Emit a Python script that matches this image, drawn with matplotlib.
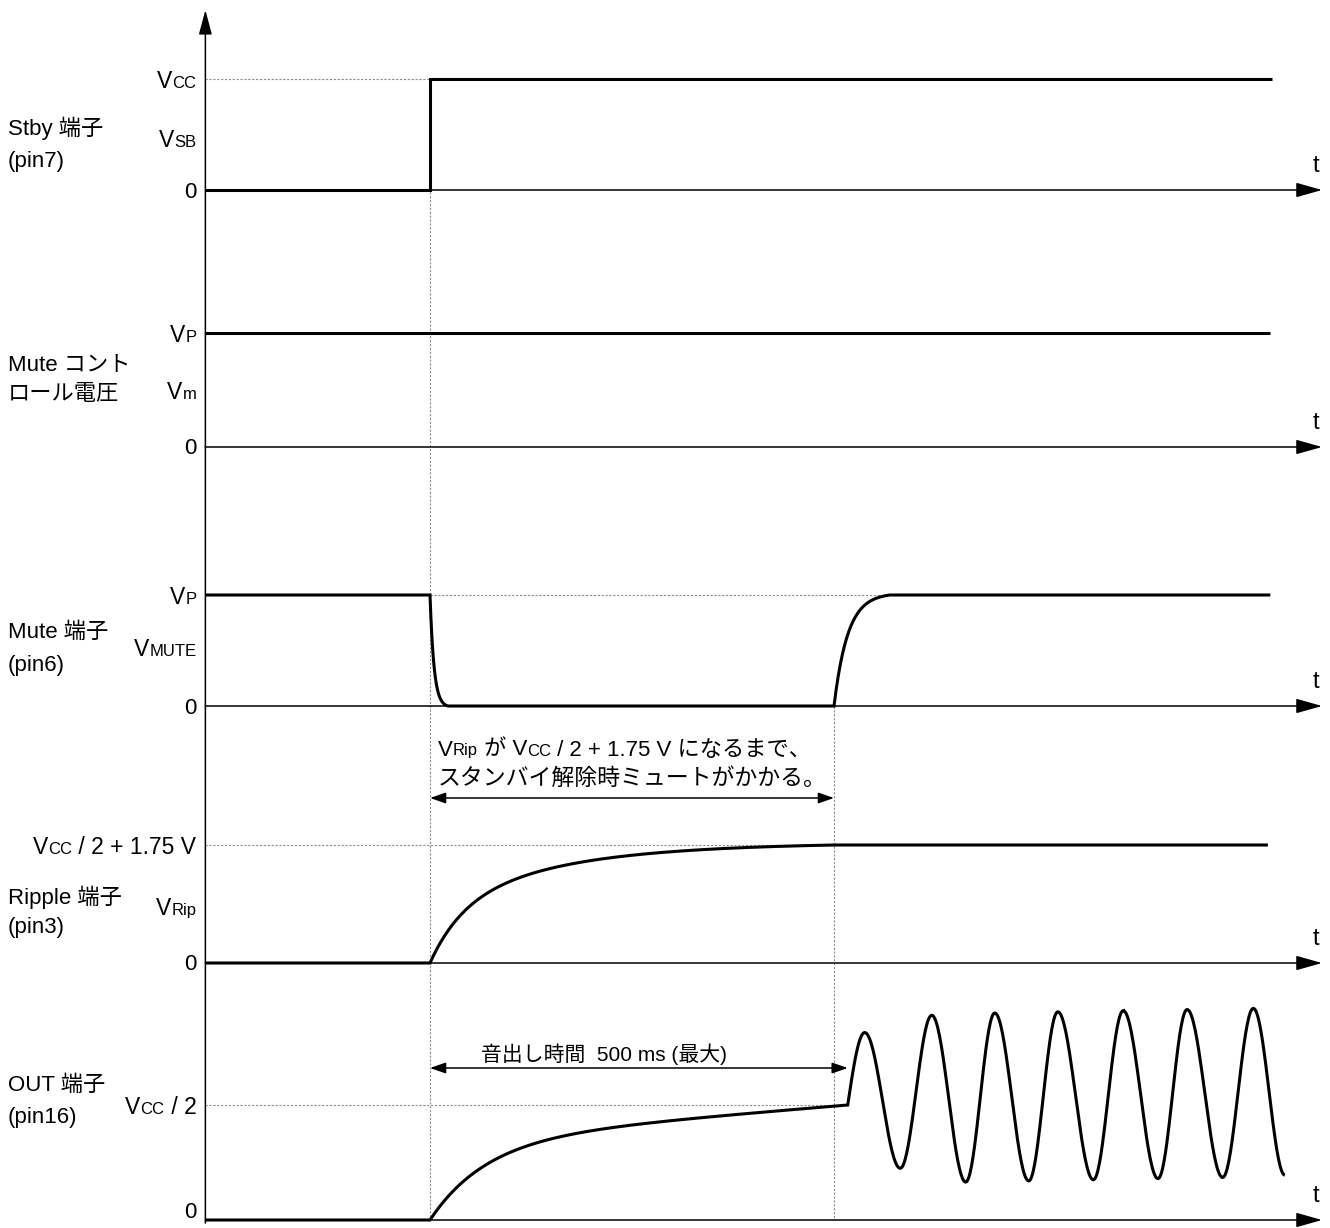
import numpy as np
import matplotlib.pyplot as plt
from matplotlib.offsetbox import TextArea, HPacker, AnnotationBbox

plt.rcParams['font.family'] = ['Liberation Sans', 'Noto Sans CJK JP']

# --- timing (ms) ---
T_STBY = 0          # standby released
T_UNMUTE = 500      # mute released (500 ms max)
T_OUT = 517         # output starts to swing
T_MUTE_SETTLE = 569
T_AXIS = -278
T_ARROW = 1104
t_trace_end = [1042, 1040, 1040, 1037]

# time constants (ms)
TAU_MUTE_FALL = 5
T_MUTE_FALL = 22
TAU_MUTE_RISE = 17
TAU_RIP_FAST, TAU_RIP_SLOW, RIP_FAST_SHARE = 40, 150, 0.45
TAU_OUT = 70

# output sine: extrema (ms, level in Vcc/2 units)
sine_t = [538, 582, 621, 663, 699, 741, 777, 821, 858, 901, 937, 981, 1019, 1058]
sine_v = [1.63, 0.45, 1.78, 0.33, 1.80, 0.34, 1.81, 0.35, 1.82, 0.36, 1.83, 0.37, 1.84, 0.39]

# threshold levels (fraction of top level)
mid_levels = [0.45, 0.48, 0.51, 0.46, None]

panel_names = [("Stby 端子", "(pin7)"), ("Mute コント", "ロール電圧"),
               ("Mute 端子", "(pin6)"), ("Ripple 端子", "(pin3)"),
               ("OUT 端子", "(pin16)")]
top_labels = [[("V", 0), ("CC", 1)], [("V", 0), ("P", 1)], [("V", 0), ("P", 1)],
              [("V", 0), ("CC", 1), (" / 2 + 1.75 V", 0)],
              [("V", 0), ("CC", 1), (" / 2", 0)]]
mid_labels = [[("V", 0), ("SB", 1)], [("V", 0), ("m", 1)], [("V", 0), ("MUTE", 1)],
              [("V", 0), ("Rip", 1)], None]

# --- layout (pixel rows) ---
PX_PER_MS = 0.808
X0_PX = 430
base_y = [190, 447, 706, 963, 1220]
top_y = [79, 333, 595, 845, 1105]
name_y = [(128, 162), (365, 395), (632, 665), (897, 928), (1085, 1117)]

W, H = 1330, 1228
fig = plt.figure(figsize=(W / 100, H / 100), dpi=100)
ax = fig.add_axes([0, 0, 1, 1])
ax.set_xlim(-X0_PX / PX_PER_MS, (W - X0_PX) / PX_PER_MS)
ax.set_ylim(H, 0)
ax.axis('off')

SIG = dict(color='black', lw=2.2, zorder=3, solid_capstyle='butt', solid_joinstyle='miter')
DOT = dict(color='#8c8c8c', lw=0.8, ls=(0, (2, 1.5)), zorder=1)


def yv(i, level):
    return base_y[i] - np.asarray(level) * (base_y[i] - top_y[i])


def rich(pieces, size=16.5, sub_size=12):
    kids = [TextArea(s, textprops=dict(fontsize=sub_size if sub else size))
            for s, sub in pieces]
    return HPacker(children=kids, align='baseline', pad=0, sep=0)


def place(box, x, y, align, dx=0):
    ab = AnnotationBbox(box, (x, y), xybox=(dx, 0), boxcoords='offset points',
                        box_alignment=align, frameon=False, pad=0)
    ax.add_artist(ab)


# axes
ax.annotate('', xy=(T_AXIS, 10), xytext=(T_AXIS, 1223),
            arrowprops=dict(arrowstyle='-|>,head_length=1.5,head_width=0.4',
                            color='black', lw=1.1, shrinkA=0, shrinkB=0))
for i in range(5):
    ax.annotate('', xy=(T_ARROW, base_y[i]), xytext=(T_AXIS, base_y[i]),
                arrowprops=dict(arrowstyle='-|>,head_length=1.6,head_width=0.45',
                                color='black', lw=1.1, shrinkA=0, shrinkB=0))
    ax.text(T_ARROW - 7, base_y[i] - 24, 't', fontsize=17, ha='center', va='center')

    # labels on the left
    for line, y in zip(panel_names[i], name_y[i]):
        ax.text(0.006, y, line, fontsize=16, va='center',
                transform=ax.get_yaxis_transform())
    place(rich(top_labels[i]), T_AXIS, top_y[i] + 3, (1, 0.5), dx=-6.5)
    if mid_labels[i] is not None:
        place(rich(mid_labels[i]), T_AXIS, yv(i, mid_levels[i]), (1, 0.5), dx=-6.5)
    place(rich([("0", 0)], size=16), T_AXIS, min(base_y[i] + 2, 1212), (1, 0.5), dx=-6.5)

# guide lines
ax.plot([T_STBY, T_STBY], [top_y[0], base_y[4]], **DOT)
ax.plot([T_UNMUTE, T_UNMUTE], [base_y[2], base_y[4]], **DOT)
ax.plot([T_AXIS, T_STBY], [top_y[0]] * 2, **DOT)
ax.plot([T_STBY, T_MUTE_SETTLE], [top_y[2]] * 2, **DOT)
ax.plot([T_AXIS, T_UNMUTE], [top_y[3]] * 2, **DOT)
ax.plot([T_AXIS, T_OUT], [top_y[4]] * 2, **DOT)

# Stby (pin7)
ax.plot([T_AXIS, T_STBY, T_STBY, t_trace_end[0]], yv(0, [0, 0, 1, 1]), **SIG)

# Mute control voltage
ax.plot([T_AXIS, t_trace_end[1]], yv(1, [1, 1]), **SIG)

# Mute (pin6)
tf = np.linspace(0, T_MUTE_FALL, 60)
fall = (np.exp(-tf / TAU_MUTE_FALL) - np.exp(-T_MUTE_FALL / TAU_MUTE_FALL)) / \
    (1 - np.exp(-T_MUTE_FALL / TAU_MUTE_FALL))
dr = T_MUTE_SETTLE - T_UNMUTE
tr = np.linspace(0, dr, 80)
rise = (1 - np.exp(-tr / TAU_MUTE_RISE)) / (1 - np.exp(-dr / TAU_MUTE_RISE))
mt = np.concatenate([[T_AXIS], T_STBY + tf, T_UNMUTE + tr, [t_trace_end[2]]])
mv = np.concatenate([[1], fall, rise, [1]])
ax.plot(mt, yv(2, mv), **SIG)

# Ripple (pin3)
trp = np.linspace(0, T_UNMUTE, 300)
rip = RIP_FAST_SHARE * (1 - np.exp(-trp / TAU_RIP_FAST)) + \
    (1 - RIP_FAST_SHARE) * (1 - np.exp(-trp / TAU_RIP_SLOW))
rip = rip / rip[-1]
ax.plot(np.concatenate([[T_AXIS], trp, [t_trace_end[3]]]),
        yv(3, np.concatenate([[0], rip, [1]])), **SIG)

# OUT (pin16)
to = np.linspace(0, T_OUT, 300)
chg = 0.7 * (1 - np.exp(-to / TAU_OUT)) / (1 - np.exp(-T_OUT / TAU_OUT)) + 0.3 * to / T_OUT
ot = [np.array([T_AXIS]), to]
ov = [np.array([0.0]), chg]
pts_t = [T_OUT] + sine_t
pts_v = [1.0] + sine_v
for k in range(len(pts_t) - 1):
    s = np.linspace(0, 1, 40)
    if k == 0:
        w = np.sin(np.pi / 2 * s)
    else:
        w = (1 - np.cos(np.pi * s)) / 2
    ot.append(pts_t[k] + (pts_t[k + 1] - pts_t[k]) * s)
    ov.append(pts_v[k] + (pts_v[k + 1] - pts_v[k]) * w)
ax.plot(np.concatenate(ot), yv(4, np.concatenate(ov)), **SIG)

# annotations
place(rich([("V", 0), ("Rip", 1), (" が V", 0), ("CC", 1),
            (" / 2 + 1.75 V になるまで、", 0)], size=16, sub_size=12), 10, 750, (0, 0.5))
ax.text(10, 778, "スタンバイ解除時ミュートがかかる。", fontsize=16.5, va='center')
ax.annotate('', xy=(T_UNMUTE, 798), xytext=(T_STBY, 798),
            arrowprops=dict(arrowstyle='<|-|>,head_length=0.95,head_width=0.33',
                            color='black', lw=1.1, shrinkA=0, shrinkB=0))
ax.text(215, 1054, "音出し時間  500 ms (最大)", fontsize=15, ha='center', va='center')
ax.annotate('', xy=(T_OUT, 1068), xytext=(T_STBY, 1068),
            arrowprops=dict(arrowstyle='<|-|>,head_length=0.95,head_width=0.33',
                            color='black', lw=1.1, shrinkA=0, shrinkB=0))

fig.savefig('out.png', dpi=100, facecolor='white')
